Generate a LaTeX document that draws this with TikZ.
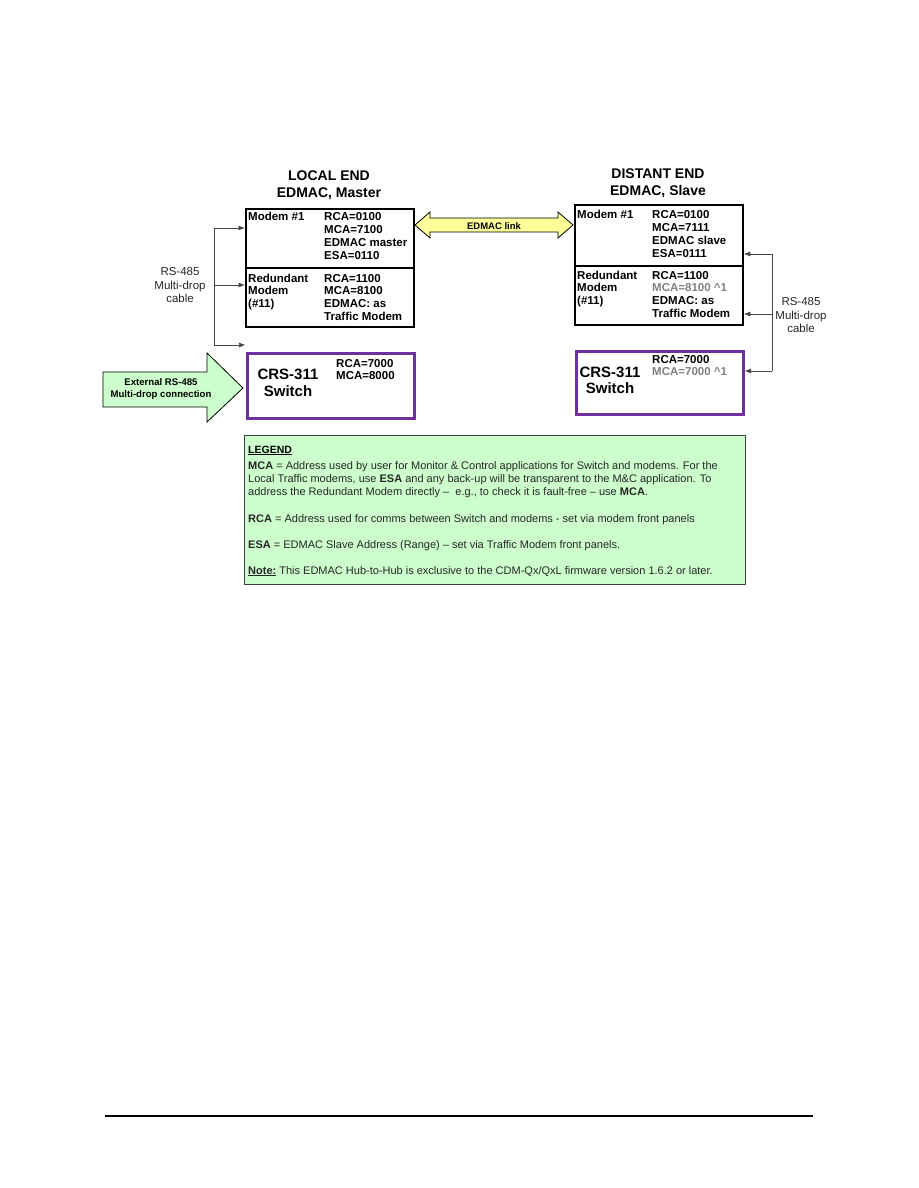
\documentclass[tikz,border=0pt]{standalone}
\usepackage{fontspec}
\setmainfont{Liberation Sans}
\usetikzlibrary{arrows.meta,positioning,calc}

\definecolor{swpurple}{RGB}{112,48,160}
\definecolor{palegreen}{RGB}{204,255,204}
\definecolor{paleyellow}{RGB}{255,255,153}
\definecolor{cablegray}{RGB}{70,70,70}
\newcommand{\setfs}[1]{\fontsize{#1}{#1}\selectfont}

\begin{document}
\begin{tikzpicture}[x=1pt, y=-1pt, >={Latex[length=6.5pt,width=5pt]},
  modem/.style={draw, line width=1.8pt, minimum width=168pt, inner sep=0pt, anchor=north west},
  switchbox/.style={draw=swpurple, line width=3pt, minimum width=167pt, inner sep=0pt, anchor=north west},
  cell/.style={anchor=base west, inner sep=0pt, font=\setfs{11.5}\bfseries},
  greycell/.style={cell, text=gray},
  head/.style={anchor=base, inner sep=0pt, font=\setfs{14}\bfseries},
  swname/.style={anchor=base, inner sep=0pt, font=\setfs{15}\bfseries},
  cable/.style={->, line width=0.7pt, draw=cablegray},
  cablelabel/.style={anchor=base, inner sep=0pt, font=\setfs{11.5}, text=black!85},
  legendtext/.style={anchor=base west, inner sep=0pt, font=\setfs{11}, text=black!85}]
  \useasboundingbox (0,0) rectangle (918,1188);

  % headers
  \node[head] (lhead1) at (329,180) {LOCAL END};
  \node[head] (lhead2) at (329,197) {EDMAC, Master};
  \node[head] (dhead1) at (658,178) {DISTANT END};
  \node[head] (dhead2) at (658,195) {EDMAC, Slave};

  % local end boxes
  \node[modem, minimum height=59pt] (lmodem) at (245,208) {};
  \node[modem, minimum height=59pt] (lred) at (245,267) {};
  \node[switchbox, minimum height=65pt] (lswitch) at (245.5,351.5) {};

  \node[cell] (lm1) at (248,220) {Modem \#1};
  \foreach \t [count=\i from 0] in {RCA=0100, MCA=7100, EDMAC master, ESA=0110}
    \node[cell] at (324,220+13*\i) {\t};
  \foreach \t [count=\i from 0] in {Redundant, Modem, (\#11)}
    \node[cell] at (248,282+12.8*\i) {\t};
  \foreach \t [count=\i from 0] in {RCA=1100, MCA=8100, EDMAC: as, Traffic Modem}
    \node[cell] at (324,282+12.8*\i) {\t};
  \node[swname] (lsw1) at (288,379) {CRS-311};
  \node[swname] (lsw2) at (288,396) {Switch};
  \node[cell] at (336,367) {RCA=7000};
  \node[cell] at (336,379) {MCA=8000};

  % distant end boxes
  \node[modem, minimum height=61pt] (dmodem) at (574,204) {};
  \node[modem, minimum height=59pt] (dred) at (574,265) {};
  \node[switchbox, minimum height=63pt] (dswitch) at (574.5,349.5) {};

  \node[cell] (dm1) at (577,218) {Modem \#1};
  \foreach \t [count=\i from 0] in {RCA=0100, MCA=7111, EDMAC slave, ESA=0111}
    \node[cell] at (652,218+13*\i) {\t};
  \foreach \t [count=\i from 0] in {Redundant, Modem, (\#11)}
    \node[cell] at (577,279+12.8*\i) {\t};
  \foreach \t [count=\i from 0] in {RCA=1100, {\textcolor{gray}{MCA=8100 \^{}1}}, EDMAC: as, Traffic Modem}
    \node[cell] at (652,279+12.8*\i) {\t};
  \node[swname] (dsw1) at (610,377) {CRS-311};
  \node[swname] (dsw2) at (610,393) {Switch};
  \node[cell] at (652,363) {RCA=7000};
  \node[greycell] at (652,375) {MCA=7000 \^{}1};

  % EDMAC link (double arrow)
  \draw[fill=paleyellow, line width=0.8pt] (415,225) -- (430,212) -- (430,218) -- (558,218)
    -- (558,212) -- (573,225) -- (558,238) -- (558,232) -- (430,232) -- (430,238) -- cycle;
  \node[inner sep=0pt, anchor=base, font=\setfs{9.5}\bfseries] (link) at (494,229) {EDMAC link};

  % local RS-485 cable
  \coordinate (ltap1) at (214,228);
  \coordinate (ltap2) at (214,285);
  \coordinate (ltap3) at (214,345);
  \draw[line width=0.7pt, cablegray] (ltap1) -- (ltap3);
  \draw[cable] (ltap1) -- (ltap1 -| lmodem.west);
  \draw[cable] (ltap2) -- (ltap2 -| lred.west);
  \draw[cable] (ltap3) -- (ltap3 -| lswitch.west);
  \node[cablelabel] at (180,275) {RS-485};
  \node[cablelabel] at (180,289) {Multi-drop};
  \node[cablelabel] at (180,302) {cable};

  % distant RS-485 cable
  \coordinate (dtap1) at (772,254);
  \coordinate (dtap2) at (772,314);
  \coordinate (dtap3) at (772,371);
  \draw[line width=0.7pt, cablegray] (dtap1) -- (dtap3);
  \draw[cable] (dtap1) -- (dtap1 -| dmodem.east);
  \draw[cable] (dtap2) -- (dtap2 -| dred.east);
  \draw[cable] (dtap3) -- (dtap3 -| dswitch.east);
  \node[cablelabel] at (801,305) {RS-485};
  \node[cablelabel] at (801,319) {Multi-drop};
  \node[cablelabel] at (801,332) {cable};

  % external connection arrow
  \draw[fill=palegreen, line width=0.8pt] (103,372) -- (207,372) -- (207,353) -- (243,388)
    -- (207,422) -- (207,407) -- (103,407) -- cycle;
  \node[inner sep=0pt, anchor=base, font=\setfs{9.6}\bfseries] (ext1) at (161,385) {External RS-485};
  \node[inner sep=0pt, anchor=base, font=\setfs{9.6}\bfseries] (ext2) at (161,397) {Multi-drop connection};

  % legend
  \node[draw=black!75, fill=palegreen, line width=1pt, anchor=north west, inner sep=0pt,
    minimum width=501pt, minimum height=149pt] (legend) at (244,435) {};
  \node[legendtext, font=\setfs{10.5}\bfseries, text=black] at (248,453) {\underline{LEGEND}};
  \node[legendtext] at (248,469) {\textbf{MCA} = Address used by user for Monitor \& Control applications for Switch and modems. For the};
  \node[legendtext] at (248,482) {Local Traffic modems, use \textbf{ESA} and any back-up will be transparent to the M\&C application. To};
  \node[legendtext] at (248,495) {address the Redundant Modem directly -- \ e.g., to check it is fault-free -- use \textbf{MCA}.};
  \node[legendtext] at (248,522) {\textbf{RCA} = Address used for comms between Switch and modems - set via modem front panels};
  \node[legendtext] at (248,548) {\textbf{ESA} = EDMAC Slave Address (Range) -- set via Traffic Modem front panels.};
  \node[legendtext] at (248,574) {\textbf{\underline{Note:}} This EDMAC Hub-to-Hub is exclusive to the CDM-Qx/QxL firmware version 1.6.2 or later.};

  % page footer rule
  \draw[line width=1.2pt] (105,1116) -- (813,1116);
\end{tikzpicture}
\end{document}
